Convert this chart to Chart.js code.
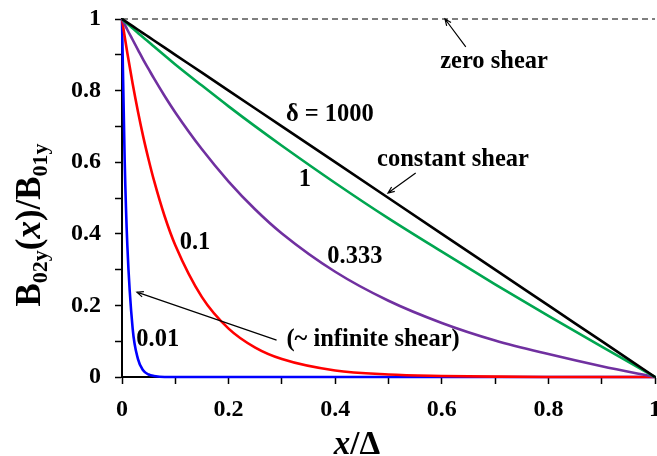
<!DOCTYPE html>
<html>
<head>
<meta charset="utf-8">
<script src="https://cdn.jsdelivr.net/npm/chart.js@4/dist/chart.umd.min.js"></script>
<style>
  body { margin: 0; background: #fff; }
  #wrap { width: 657px; height: 456px; }
</style>
</head>
<body>
<div id="wrap"><canvas id="shear" width="657" height="456"></canvas></div>
<script>
// x/Delta sample positions shared by all curves
var xPos = [0, 0.005, 0.01, 0.02, 0.03, 0.04, 0.05, 0.06, 0.08, 0.1, 0.15, 0.2, 0.25, 0.3, 0.4, 0.5, 0.6, 0.7, 0.8, 0.9, 1];

// B02y(x)/B01y, one list per delta
var delta1000 = [1, 0.995, 0.99, 0.98, 0.97, 0.96, 0.95, 0.94, 0.92, 0.9, 0.85, 0.8, 0.75, 0.7, 0.6, 0.5, 0.4, 0.3, 0.2, 0.1, 0];
var delta1 = [1, 0.993, 0.987, 0.974, 0.961, 0.948, 0.936, 0.923, 0.898, 0.873, 0.814, 0.756, 0.7, 0.646, 0.542, 0.443, 0.35, 0.259, 0.171, 0.085, 0];
var delta0333 = [1, 0.985, 0.97, 0.942, 0.914, 0.886, 0.86, 0.834, 0.785, 0.739, 0.636, 0.546, 0.468, 0.401, 0.294, 0.213, 0.151, 0.102, 0.064, 0.03, 0];
var delta01 = [1, 0.951, 0.905, 0.819, 0.741, 0.67, 0.607, 0.549, 0.449, 0.368, 0.223, 0.135, 0.082, 0.05, 0.018, 0.007, 0.003, 0.001, 0, 0, 0];
var delta001 = [1, 0.607, 0.368, 0.135, 0.05, 0.018, 0.007, 0.003, 0, 0, 0, 0, 0, 0, 0, 0, 0, 0, 0, 0, 0];

// zero shear reference line
var zeroX = [0, 1];
var zeroY = [1, 1];

var tickLabels = ['0', '0.2', '0.4', '0.6', '0.8', '1'];

// text labels and arrows, in data coordinates
var notes = [
    { text: '\u03b4 = 1000', x: 0.39, y: 0.732 },
    { text: '1', x: 0.343, y: 0.55 },
    { text: 'constant shear', x: 0.621, y: 0.606 },
    { text: 'zero shear', x: 0.698, y: 0.88 },
    { text: '0.1', x: 0.137, y: 0.374 },
    { text: '0.333', x: 0.437, y: 0.335 },
    { text: '0.01', x: 0.067, y: 0.103 },
    { text: '(~ infinite shear)', x: 0.471, y: 0.103 }
];
var arrows = [
    { x1: 0.551, y1: 0.57, x2: 0.499, y2: 0.514 },
    { x1: 0.645, y1: 0.922, x2: 0.606, y2: 1.0 },
    { x1: 0.29, y1: 0.103, x2: 0.028, y2: 0.237 }
];

var serif = "'Liberation Serif', 'Times New Roman', serif";

function pts(ys, xs) {
    xs = xs || xPos;
    return ys.map(function(v, i) { return { x: xs[i], y: v }; });
}

function curve(ys, color) {
    return {
        data: pts(ys),
        borderColor: color,
        borderWidth: 2.6,
        pointRadius: 0,
        showLine: true,
        cubicInterpolationMode: 'monotone',
        clip: false
    };
}

function tickText(v) {
    var k = Math.round(v * 10);
    if (k % 2) return '';
    return tickLabels[k / 2];
}

var extras = {
    id: 'extras',
    afterDraw: function(chart) {
        var ctx = chart.ctx;
        var sx = chart.scales.x, sy = chart.scales.y;
        ctx.save();
        ctx.fillStyle = '#000';
        ctx.font = 'bold 24.5px ' + serif;
        ctx.textAlign = 'center';
        ctx.textBaseline = 'middle';
        notes.forEach(function(n) {
            ctx.fillText(n.text, sx.getPixelForValue(n.x), sy.getPixelForValue(n.y));
        });

        ctx.strokeStyle = '#000';
        ctx.lineWidth = 1.2;
        arrows.forEach(function(a) {
            var x1 = sx.getPixelForValue(a.x1), y1 = sy.getPixelForValue(a.y1);
            var x2 = sx.getPixelForValue(a.x2), y2 = sy.getPixelForValue(a.y2);
            var ang = Math.atan2(y2 - y1, x2 - x1);
            ctx.beginPath();
            ctx.moveTo(x1, y1);
            ctx.lineTo(x2, y2);
            ctx.moveTo(x2 - 7 * Math.cos(ang - 0.4), y2 - 7 * Math.sin(ang - 0.4));
            ctx.lineTo(x2, y2);
            ctx.lineTo(x2 - 7 * Math.cos(ang + 0.4), y2 - 7 * Math.sin(ang + 0.4));
            ctx.stroke();
        });

        // x axis title: x/Δ
        ctx.textAlign = 'left';
        ctx.textBaseline = 'alphabetic';
        ctx.font = 'italic bold 33px ' + serif;
        var w1 = ctx.measureText('x').width;
        ctx.font = 'bold 33px ' + serif;
        var w2 = ctx.measureText('/\u0394').width;
        var bx = 357 - (w1 + w2) / 2;
        ctx.font = 'italic bold 33px ' + serif;
        ctx.fillText('x', bx, 454);
        ctx.font = 'bold 33px ' + serif;
        ctx.fillText('/\u0394', bx + w1, 454);

        // y axis title: B02y(x)/B01y
        var parts = [
            { t: 'B', f: 'bold 35px ', dy: 0 },
            { t: '02y', f: 'bold 22px ', dy: 7 },
            { t: '(', f: 'bold 35px ', dy: 0 },
            { t: 'x', f: 'italic bold 35px ', dy: 0 },
            { t: ')/B', f: 'bold 35px ', dy: 0 },
            { t: '01y', f: 'bold 22px ', dy: 7 }
        ];
        var total = 0;
        parts.forEach(function(p) {
            ctx.font = p.f + serif;
            p.w = ctx.measureText(p.t).width;
            total += p.w;
        });
        ctx.translate(40, 225);
        ctx.rotate(-Math.PI / 2);
        var px = -total / 2;
        parts.forEach(function(p) {
            ctx.font = p.f + serif;
            ctx.fillText(p.t, px, p.dy);
            px += p.w;
        });
        ctx.restore();
    }
};

var axisCommon = {
    type: 'linear',
    min: 0,
    max: 1,
    border: { color: '#000', width: 2 },
    grid: {
        drawOnChartArea: false,
        drawTicks: true,
        tickLength: 7,
        tickWidth: 1.5,
        tickColor: '#000'
    }
};

new Chart(document.getElementById('shear'), {
    type: 'scatter',
    data: {
        datasets: [
            {
                data: pts(zeroY, zeroX),
                borderColor: '#000',
                borderWidth: 1.2,
                borderDash: [6, 4],
                pointRadius: 0,
                showLine: true,
                clip: false
            },
            curve(delta1000, '#000000'),
            curve(delta1, '#00a650'),
            curve(delta0333, '#7030a0'),
            curve(delta01, '#ff0000'),
            curve(delta001, '#0000ff')
        ]
    },
    options: {
        responsive: false,
        animation: false,
        events: [],
        layout: { padding: { top: 19, right: 2, left: 0, bottom: 0 } },
        plugins: {
            legend: { display: false },
            tooltip: { enabled: false }
        },
        scales: {
            x: Object.assign({}, axisCommon, {
                ticks: {
                    stepSize: 0.1,
                    autoSkip: false,
                    maxRotation: 0,
                    padding: 11,
                    color: '#000',
                    font: { family: serif, size: 24, weight: 'bold' },
                    callback: tickText
                },
                afterFit: function(s) {
                    s.height = 79;
                    s.paddingLeft = 0;
                    s.paddingRight = 0;
                }
            }),
            y: Object.assign({}, axisCommon, {
                ticks: {
                    stepSize: 0.1,
                    autoSkip: false,
                    padding: 14,
                    color: '#000',
                    font: { family: serif, size: 24, weight: 'bold' },
                    callback: tickText
                },
                afterFit: function(s) {
                    s.width = 122;
                    s.paddingTop = 0;
                    s.paddingBottom = 0;
                }
            })
        }
    },
    plugins: [extras]
});
</script>
</body>
</html>
